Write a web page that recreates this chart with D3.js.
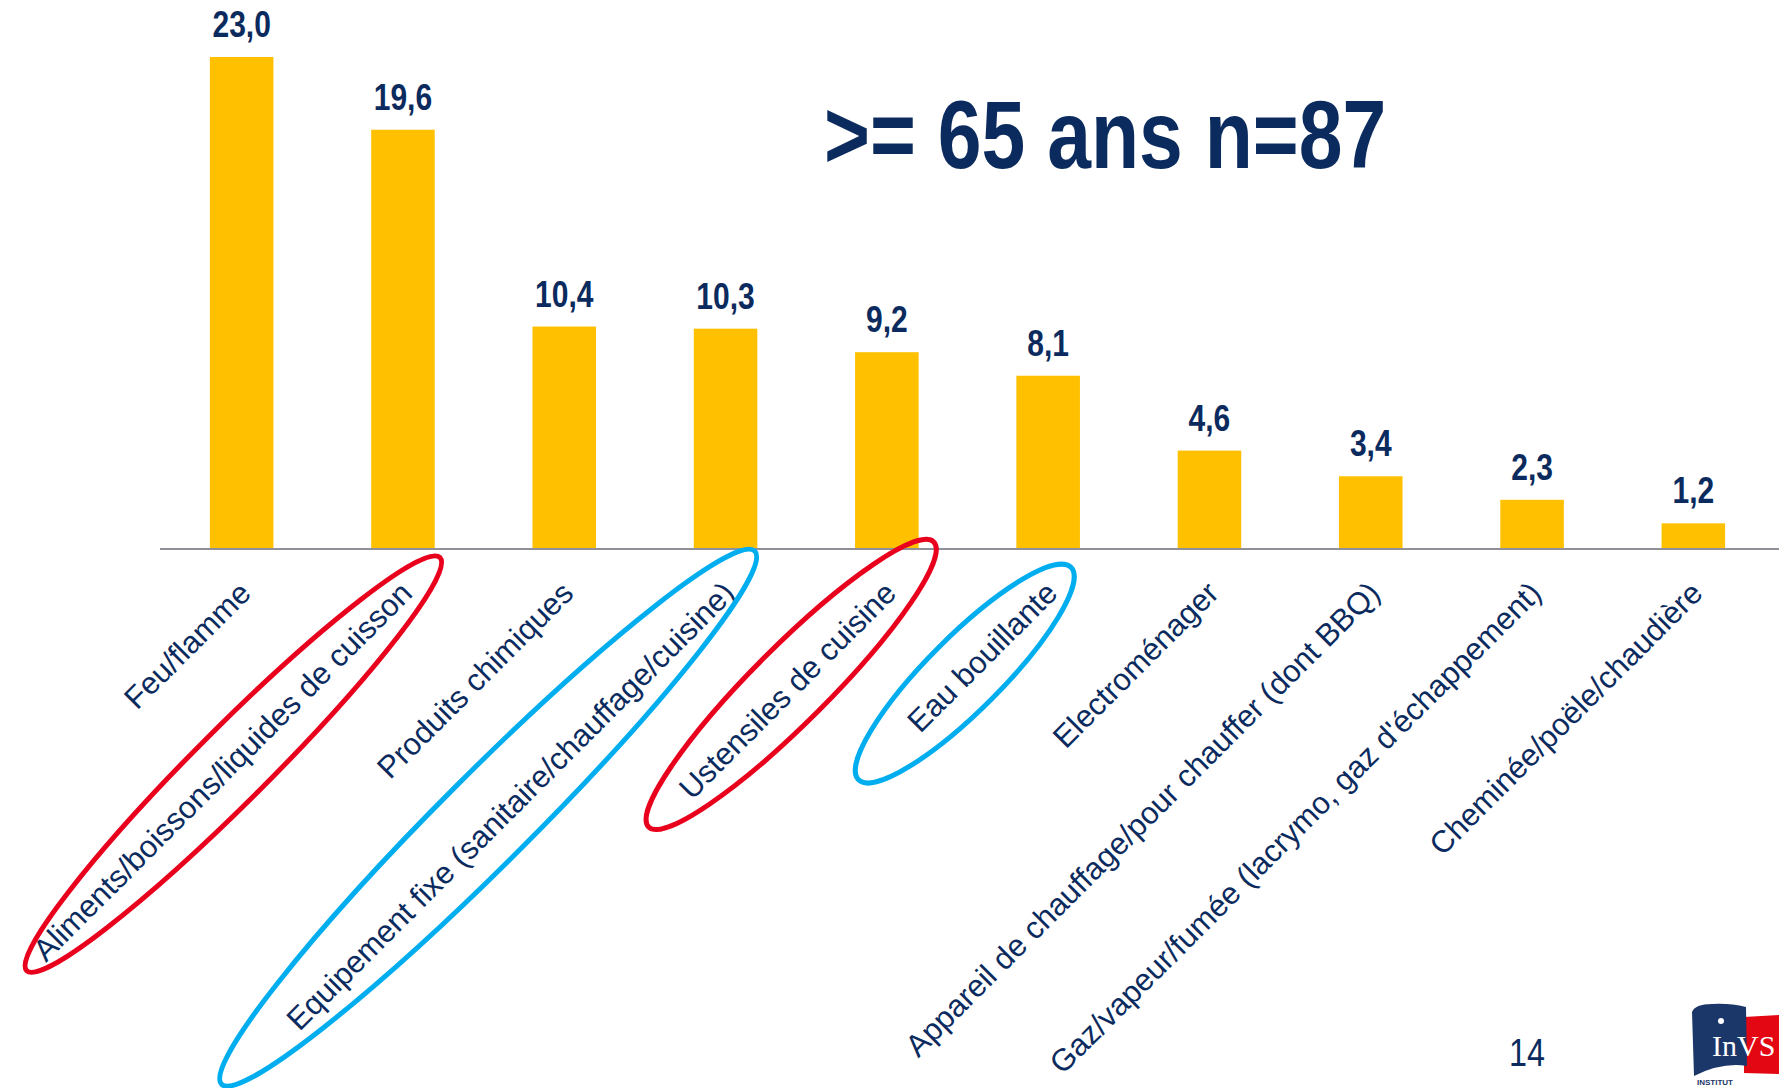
<!DOCTYPE html>
<html><head><meta charset="utf-8">
<script src="https://cdn.jsdelivr.net/npm/d3@7"></script>
<style>html,body{margin:0;padding:0;background:#fff;overflow:hidden}</style>
</head><body><svg id="c" width="1779" height="1088"></svg>
<script>
// ---- data ----
const categories = [
  "Feu/flamme",
  "Aliments/boissons/liquides de cuisson",
  "Produits chimiques",
  "Equipement fixe (sanitaire/chauffage/cuisine)",
  "Ustensiles de cuisine",
  "Eau bouillante",
  "Electroménager",
  "Appareil de chauffage/pour chauffer (dont BBQ)",
  "Gaz/vapeur/fumée (lacrymo, gaz d'échappement)",
  "Cheminée/poële/chaudière"
];
const values = [23.0, 19.6, 10.4, 10.3, 9.2, 8.1, 4.6, 3.4, 2.3, 1.2];
const valueLabels = ["23,0", "19,6", "10,4", "10,3", "9,2", "8,1", "4,6", "3,4", "2,3", "1,2"];
const titleText = ">= 65 ans n=87";
const pageNumber = "14";
// highlighted categories (hand-drawn ellipses)
const highlightCats = [
  "Aliments/boissons/liquides de cuisson",
  "Equipement fixe (sanitaire/chauffage/cuisine)",
  "Ustensiles de cuisine",
  "Eau bouillante"
];
const highlightColors = ["red", "blue", "red", "blue"];

// ---- styles / layout ----
const W = 1779, H = 1088;
const NAVY = "#0b2b5e", GOLD = "#ffc000";
const colorMap = {red: "#e8001c", blue: "#00aeef"};
const ellipseStyle = [ // per highlight: shift along text, perp shift, margin, ry
  {s: 20, p: 0, m: 32, ry: 37},
  {s: -17, p: 10, m: 68, ry: 45},
  {s: 14, p: 4, m: 56, ry: 38},
  {s: -17, p: 3, m: 52, ry: 37}
];
const svg = d3.select("#c");
const baseY = 549;
const x = d3.scaleBand().domain(categories).range([161, 1774]).paddingInner(0.606).paddingOuter(0.303);
const y = d3.scaleLinear().domain([0, 23]).range([baseY, 57]);
const bw = x.bandwidth();
const FONT = "'Liberation Sans', Arial, sans-serif";

// bars
svg.append("g").selectAll("rect").data(values).join("rect")
  .attr("x", (d, i) => x(categories[i]))
  .attr("y", d => y(d))
  .attr("width", bw)
  .attr("height", d => baseY - y(d))
  .attr("fill", GOLD);

// value labels (bold condensed)
svg.append("g").selectAll("g").data(values).join("g")
  .attr("transform", (d, i) => `translate(${x(categories[i]) + bw / 2},${y(d) - 20}) scale(0.8,1)`)
  .append("text")
  .attr("text-anchor", "middle")
  .attr("font-family", FONT).attr("font-weight", "bold").attr("font-size", 37.5)
  .attr("fill", NAVY)
  .text((d, i) => valueLabels[i]);

// axis
const axis = d3.axisBottom(x).tickSize(0).tickSizeOuter(0).tickFormat(() => "");
const ax = svg.append("g").attr("transform", `translate(0,${baseY})`).call(axis);
ax.select(".domain").remove();
svg.append("line").attr("x1", 160).attr("x2", W).attr("y1", baseY).attr("y2", baseY)
  .attr("stroke", "#8f9099").attr("stroke-width", 2);

// category labels rotated
const labelG = svg.append("g").selectAll("g").data(categories).join("g")
  .attr("transform", d => `translate(${x(d) + bw / 2 + 11},595) rotate(-45)`);
labelG.append("text")
  .attr("text-anchor", "end")
  .attr("font-family", FONT).attr("font-size", 31)
  .attr("fill", NAVY)
  .text(d => d);

// highlight ellipses around labels
const ellG = svg.append("g");
labelG.each(function (d) {
  const k = highlightCats.indexOf(d);
  if (k < 0) return;
  const L = d3.select(this).select("text").node().getComputedTextLength();
  const st = ellipseStyle[k];
  ellG.append("g")
    .attr("transform", `translate(${x(d) + bw / 2 + 8},602) rotate(-45)`)
    .append("ellipse")
    .attr("cx", -L / 2 + st.s)
    .attr("cy", -11 - st.p)
    .attr("rx", L / 2 + st.m)
    .attr("ry", st.ry)
    .attr("fill", "none")
    .attr("stroke", colorMap[highlightColors[k]])
    .attr("stroke-width", 5);
});

// title
svg.append("g").attr("transform", "translate(824,168) scale(0.82,1)")
  .append("text")
  .attr("font-family", FONT).attr("font-weight", "bold").attr("font-size", 96)
  .attr("fill", NAVY).text(titleText);

// page number
svg.append("g").attr("transform", "translate(1509,1066) scale(0.85,1)")
  .append("text")
  .attr("font-family", FONT).attr("font-size", 38)
  .attr("fill", NAVY).text(pageNumber);

// logo
const logo = svg.append("g");
logo.append("path").attr("d", "M1744,1017 L1779,1015 L1779,1074 L1744,1073 Z").attr("fill", "#e30613");
logo.append("path").attr("d", "M1692,1012 Q1695,1004 1712,1004 Q1730,1003 1746,1007 L1747,1066 Q1722,1062 1694,1076 Z").attr("fill", "#1b3668");
logo.append("text").attr("x", 1712).attr("y", 1056)
  .attr("font-family", "'Liberation Serif', 'DejaVu Serif', serif").attr("font-size", 30)
  .attr("fill", "#fff").text("InVS");
logo.append("circle").attr("cx", 1721).attr("cy", 1021).attr("r", 3).attr("fill", "#fff");
logo.append("text").attr("x", 1697).attr("y", 1085)
  .attr("font-family", FONT).attr("font-size", 8).attr("font-weight", "bold")
  .attr("fill", "#1b3668").text("INSTITUT");
</script>
</body></html>
